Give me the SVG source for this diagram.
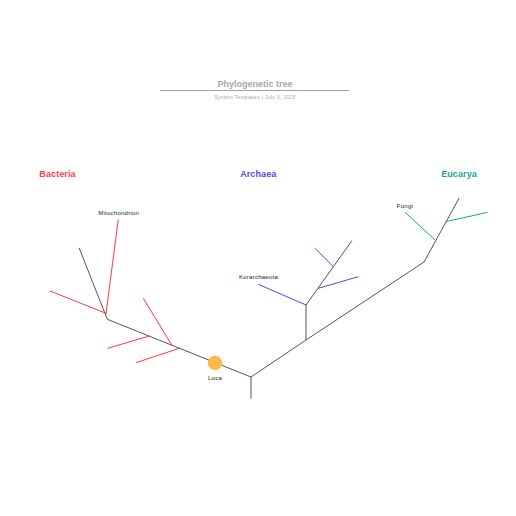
<svg xmlns="http://www.w3.org/2000/svg" width="516" height="516" viewBox="0 0 516 516">
<style>
text{font-family:"Liberation Sans",Arial,sans-serif;text-anchor:middle}
.trunk{stroke:#555;stroke-width:1;fill:none;stroke-linecap:round}
.bac{stroke:#ff3b3b;stroke-width:1;fill:none}
.arc{stroke:#4a4ae0;stroke-width:1;fill:none}
.euc{stroke:#14a88c;stroke-width:1;fill:none}
.lbl{font-size:6px;letter-spacing:0.25px;fill:#222}
.grp{font-size:9px;font-weight:bold;letter-spacing:0.1px}
</style>
<rect width="516" height="516" fill="#fff"/>
<g id="title">
<text x="255" y="87.2" font-size="9" font-weight="bold" fill="#a3a7b1">Phylogenetic tree</text>
<line x1="160" y1="90.5" x2="349" y2="90.5" stroke="#9aa0b8" stroke-width="1"/>
<text x="255" y="98.5" font-size="5" letter-spacing="0.3" fill="#a3a7b1">System Templates  |  July 3, 2025</text>
</g>
<g id="connectors">
<polyline class="trunk" points="79.3,248.3 107.3,319.3 251,377 251,398.3"/>
<polyline class="trunk" points="251,377 306,340 424,262 459,198.3"/>
<polyline class="trunk" points="306,340 306,305 351.7,241"/>
<line class="bac" x1="118.3" y1="219.3" x2="106" y2="314"/>
<line class="bac" x1="50" y1="291" x2="106.5" y2="313.5"/>
<line class="bac" x1="143.3" y1="298.3" x2="171.7" y2="345"/>
<line class="bac" x1="107.7" y1="348.3" x2="149.3" y2="336"/>
<line class="bac" x1="136" y1="362.7" x2="179.3" y2="348.3"/>
<line class="arc" x1="306" y1="305" x2="258.3" y2="284.3"/>
<line class="arc" x1="318.3" y1="288.3" x2="358.3" y2="276.7"/>
<line class="arc" x1="315" y1="248.3" x2="333.3" y2="266.7"/>
<line class="euc" x1="405" y1="212.3" x2="435" y2="240"/>
<line class="euc" x1="445.7" y1="221.7" x2="487.7" y2="212.3"/>
</g>
<g id="bacteria"><text class="grp" x="57.5" y="176.5" fill="#ff3b4b">Bacteria</text></g>
<g id="archaea"><text class="grp" x="258.3" y="176.5" fill="#4f4fe0">Archaea</text></g>
<g id="eucarya"><text class="grp" x="459" y="176.5" fill="#14a88c">Eucarya</text></g>
<g id="mitochondrion"><text class="lbl" x="118.7" y="215.2">Mitochondrion</text></g>
<g id="korarchaeota"><text class="lbl" x="258.5" y="279.3">Korarchaeota</text></g>
<g id="fungi"><text class="lbl" x="405" y="207.8">Fungi</text></g>
<g id="luca">
<circle cx="215" cy="363" r="7.2" fill="#ffb84d"/>
<text class="lbl" x="215" y="379.8">Luca</text>
</g>
</svg>
